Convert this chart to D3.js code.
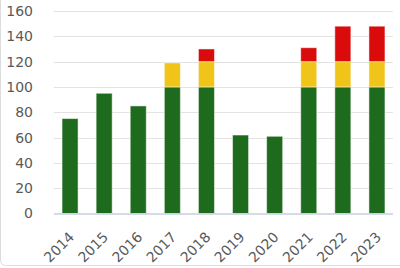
<!DOCTYPE html>
<html>
<head>
<meta charset="utf-8">
<script src="https://cdn.jsdelivr.net/npm/d3@7"></script>
<style>
  body { margin: 0; background: #fff; }
  svg { display: block; }
  text { font-family: "DejaVu Sans", Verdana, sans-serif; fill: #595959; }
</style>
</head>
<body>
<div id="chart"></div>
<script>
// years on the x axis
const years = ["2014", "2015", "2016", "2017", "2018", "2019", "2020", "2021", "2022", "2023"]
// stacked parts: up to 100, 100-120, above 120
const green = [75, 95, 85, 100, 100, 62, 61, 100, 100, 100]
const yellow = [0, 0, 0, 19, 20, 0, 0, 20, 20, 20]
const red = [0, 0, 0, 0, 10, 0, 0, 11, 28, 28]
const yTicks = [0, 20, 40, 60, 80, 100, 120, 140, 160]

const width = 400
const height = 268
const colors = { green: "#1e6b1e", yellow: "#f0c419", red: "#d90b0b" }

const svg = d3.select("#chart")
    .append("svg")
    .attr("width", width)
    .attr("height", height)

// faint frame round the chart
svg.append("rect")
    .attr("x", 0.5).attr("y", -10)
    .attr("width", 420).attr("height", 275.5)
    .attr("rx", 5)
    .attr("fill", "none")
    .attr("stroke", "#dcdcdc")

const x = d3.scaleBand()
    .domain(years)
    .range([53, 394])
    .paddingInner(0.53)
    .paddingOuter(0.265)

const y = d3.scaleLinear()
    .domain([0, 160])
    .range([213.5, 11])

// gridlines
svg.append("g")
    .selectAll("line")
    .data(yTicks.filter(d => d > 0))
    .join("line")
    .attr("x1", 54).attr("x2", 393)
    .attr("y1", d => Math.round(y(d)) + 0.5)
    .attr("y2", d => Math.round(y(d)) + 0.5)
    .attr("stroke", "#e3e3e3")
    .attr("stroke-width", 1.2)

// y axis labels
const yAxis = d3.axisLeft(y).tickValues(yTicks).tickSize(0).tickPadding(0)
svg.append("g")
    .attr("transform", "translate(33,0)")
    .call(yAxis)
    .call(g => g.select(".domain").remove())
    .selectAll("text")
    .style("font-size", "14px")
    .style("font-family", "'DejaVu Sans', sans-serif")
    .attr("fill", "#595959")

// stack the data
const rows = years.map((yr, i) => ({ year: yr, green: green[i], yellow: yellow[i], red: red[i] }))
const stack = d3.stack().keys(["green", "yellow", "red"])(rows)

svg.append("g")
    .selectAll("g")
    .data(stack)
    .join("g")
    .attr("fill", d => colors[d.key])
    .selectAll("rect")
    .data(d => d.filter(p => p[1] > p[0]))
    .join("rect")
    .attr("x", d => x(d.data.year))
    .attr("width", x.bandwidth())
    .attr("y", d => y(d[1]))
    .attr("height", d => y(d[0]) - y(d[1]))
    .attr("stroke", "#ffffff")
    .attr("stroke-opacity", 0.5)
    .attr("stroke-width", 1)

// baseline
svg.append("line")
    .attr("x1", 54).attr("x2", 393)
    .attr("y1", 214).attr("y2", 214)
    .attr("stroke", "#c9cfe3")
    .attr("stroke-width", 1.5)

// x axis labels, rotated
const xAxis = d3.axisBottom(x).tickSize(0).tickPadding(0)
svg.append("g")
    .attr("transform", "translate(0,214)")
    .call(xAxis)
    .call(g => g.select(".domain").remove())
    .selectAll("text")
    .style("font-size", "14px")
    .style("font-family", "'DejaVu Sans', sans-serif")
    .attr("fill", "#595959")
    .attr("text-anchor", "end")
    .attr("dy", "0")
    .attr("transform", "translate(5,24) rotate(-45)")
</script>
</body>
</html>
